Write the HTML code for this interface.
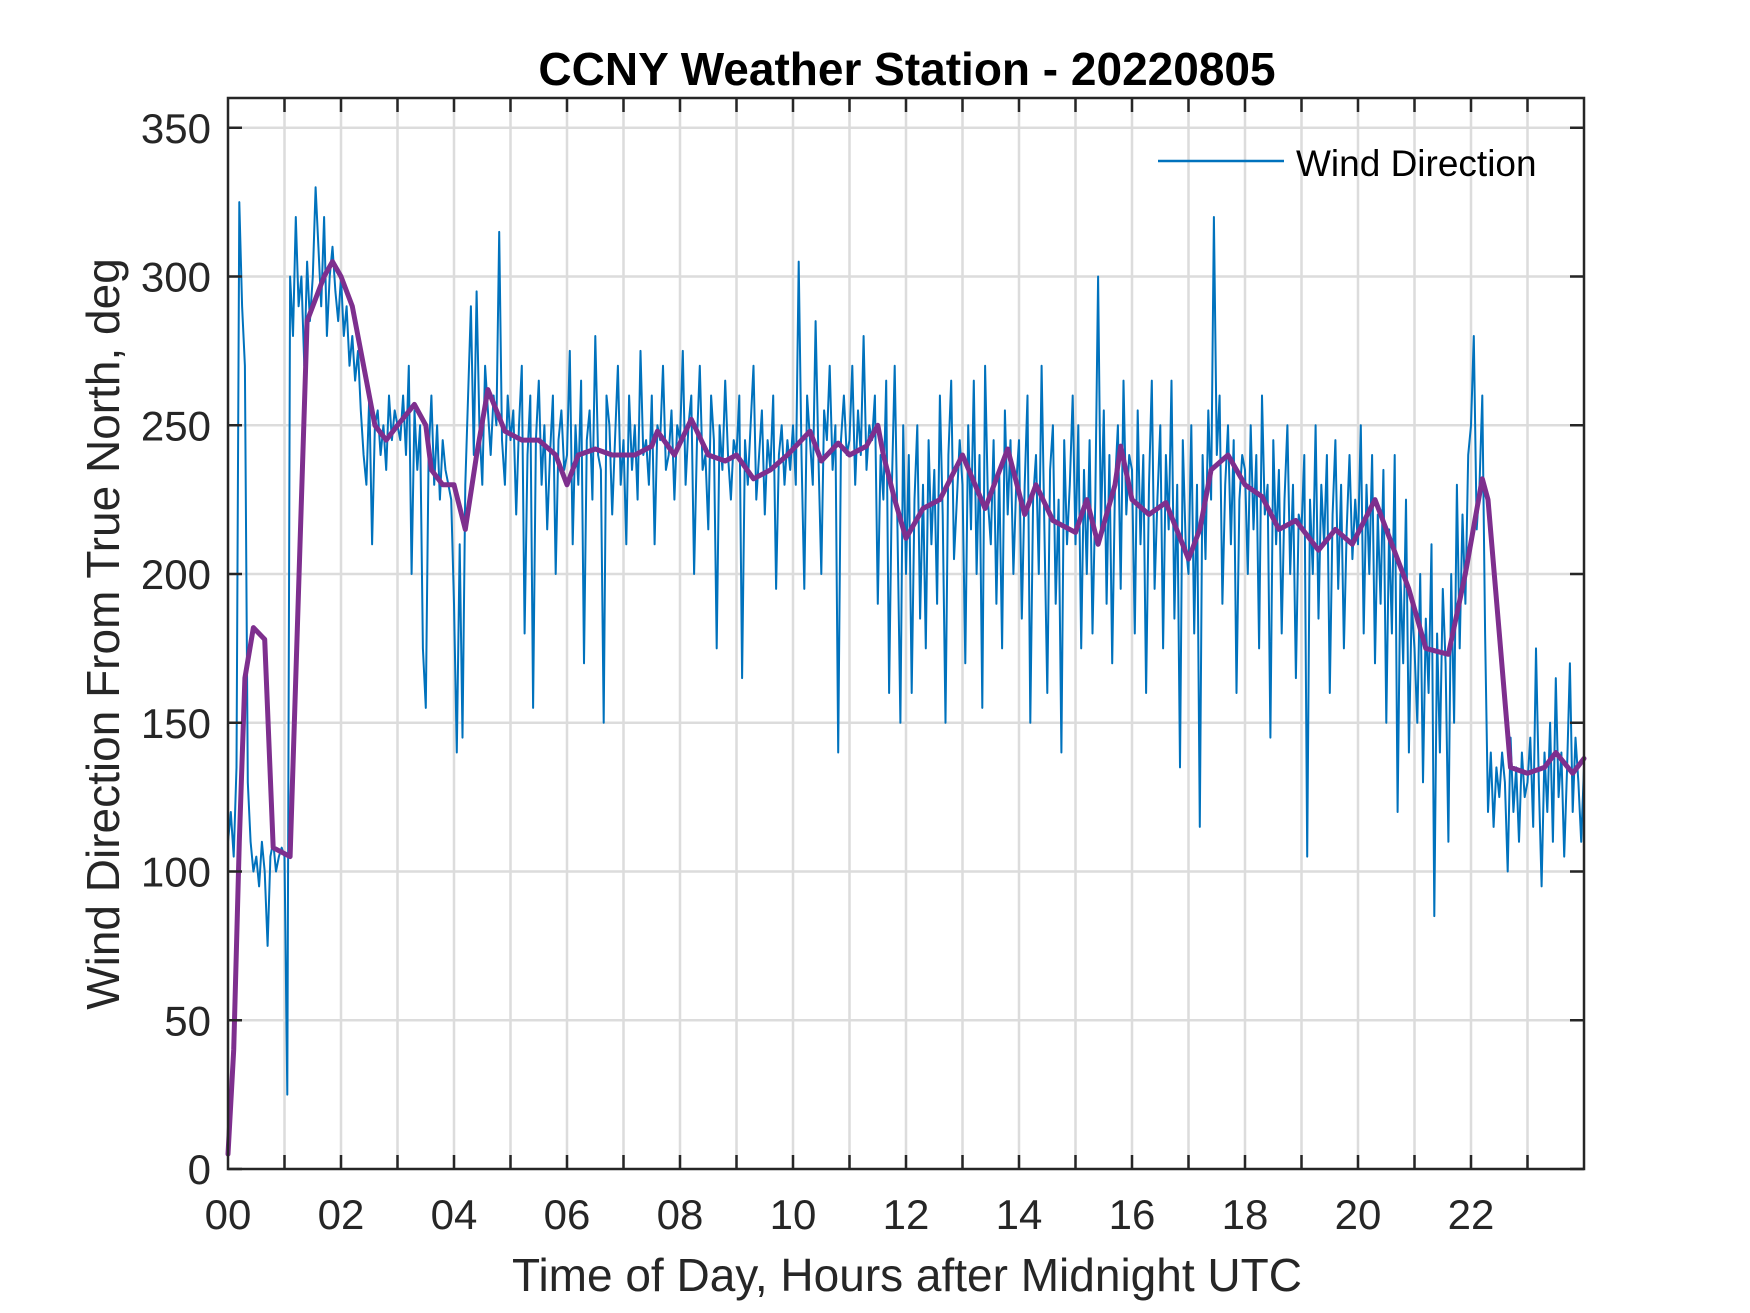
<!DOCTYPE html>
<html><head><meta charset="utf-8"><style>
html,body{margin:0;padding:0;background:#fff;}
svg{display:block;font-family:"Liberation Sans",Arial,sans-serif;}
</style></head><body>
<svg id="chart" width="1750" height="1313" viewBox="0 0 1750 1313" xmlns="http://www.w3.org/2000/svg">
<rect width="1750" height="1313" fill="#fff"/>
<g id="grid"></g>
<g id="series"></g>
<g id="axes"></g>
<text x="907" y="85" text-anchor="middle" font-size="46" font-weight="bold" fill="#000">CCNY Weather Station - 20220805</text>
<text x="907" y="1291" text-anchor="middle" font-size="46" fill="#262626">Time of Day, Hours after Midnight UTC</text>
<text transform="translate(119,634) rotate(-90)" text-anchor="middle" font-size="46" fill="#262626">Wind Direction From True North, deg</text>
<g>
<line x1="1158" y1="161" x2="1284" y2="161" stroke="#0072BD" stroke-width="2.5"/>
<text x="1296" y="176" font-size="37" fill="#000">Wind Direction</text>
</g>
</svg>
<script>
const xTicks = [0,2,4,6,8,10,12,14,16,18,20,22];
const xTickLabels = ["00","02","04","06","08","10","12","14","16","18","20","22"];
const yTicks = [0,50,100,150,200,250,300,350];
const rawStepHours = 0.05;
const rawValues = [
110,120,105,135,325,290,270,130,110,100,105,95,110,100,75,105,110,100,105,108,
105,25,300,280,320,290,300,270,305,285,300,330,310,290,320,280,300,310,295,285,
300,280,290,270,280,265,275,255,240,230,260,210,250,255,240,250,235,260,245,255,
250,245,260,240,270,200,255,235,250,175,155,240,260,230,250,225,245,235,230,225,
190,140,210,145,230,260,290,240,295,250,230,270,255,240,260,250,315,245,230,260,
245,255,220,250,270,180,240,260,155,245,265,230,250,215,240,260,200,245,255,235,
240,275,210,250,230,265,170,245,255,225,280,240,235,150,260,250,220,245,270,230,
245,210,260,235,250,225,275,240,245,230,260,210,250,245,270,235,240,255,225,250,
245,275,230,250,260,200,245,270,235,240,215,260,245,175,250,235,265,240,225,245,
240,260,165,245,230,250,270,225,240,255,220,245,235,260,195,240,250,230,245,235,
250,230,305,240,195,260,245,230,285,240,200,255,245,270,235,250,140,245,260,240,
245,270,230,255,240,280,235,250,245,260,190,240,225,265,160,230,270,215,150,250,
200,240,160,225,250,185,230,175,245,210,235,190,260,220,150,240,265,205,225,245,
230,170,250,215,265,200,240,155,270,225,210,245,190,235,175,255,220,245,200,230,
245,185,230,260,150,225,240,200,270,215,160,235,250,190,225,140,245,210,230,260,
210,250,175,235,200,245,180,225,300,215,255,190,240,170,230,250,195,265,220,240,
235,180,255,210,240,160,230,265,195,225,250,175,240,215,265,185,230,135,245,210,
200,250,180,230,115,240,205,255,225,320,240,260,190,230,250,210,245,160,225,240,
235,200,250,215,240,175,260,220,230,145,245,210,235,180,225,250,200,230,165,220,
215,240,105,225,200,250,185,230,210,240,160,220,245,195,230,175,215,240,205,225,
210,250,180,230,200,240,170,220,190,235,150,215,180,240,120,200,170,225,140,190,
175,150,200,130,185,160,210,85,180,140,195,170,110,200,150,230,175,220,190,240,
250,280,215,230,260,180,120,140,115,135,125,140,130,100,145,120,135,110,140,125,
130,145,115,175,130,95,140,120,150,110,165,125,140,105,135,170,120,145,130,110,
135];
const smoothTimes = [0,0.1,0.2,0.3,0.45,0.65,0.8,1.1,1.4,1.7,1.85,2.0,2.2,2.4,2.6,2.8,3.0,3.3,3.5,3.6,3.8,4.0,4.2,4.4,4.6,4.9,5.2,5.5,5.8,6.0,6.2,6.5,6.8,7.2,7.5,7.6,7.9,8.2,8.5,8.8,9.0,9.3,9.6,9.9,10.3,10.5,10.8,11.0,11.3,11.5,11.6,11.8,12.0,12.3,12.6,13.0,13.4,13.8,14.1,14.3,14.6,15.0,15.2,15.4,15.7,15.8,16.0,16.3,16.6,17.0,17.2,17.4,17.7,18.0,18.3,18.6,18.9,19.3,19.6,19.9,20.3,20.6,20.9,21.2,21.6,21.9,22.2,22.3,22.5,22.7,23.0,23.3,23.5,23.8,24.0];
const smoothValues = [5,40,110,165,182,178,108,105,285,300,305,300,290,270,250,245,250,257,250,235,230,230,215,240,262,248,245,245,240,230,240,242,240,240,243,248,240,252,240,238,240,232,235,240,248,238,244,240,243,250,240,225,212,222,225,240,222,242,220,230,218,214,225,210,230,243,225,220,224,205,215,235,240,230,226,215,218,208,215,210,225,210,195,175,173,200,232,225,180,135,133,135,140,133,138];

const X0=228,X1=1584,Y0=1169,Y1=98;
const xs=h=>X0+(h/24)*(X1-X0);
const ys=v=>Y0-(v/360)*(Y0-Y1);
const NS="http://www.w3.org/2000/svg";
function mk(tag,attrs,parent){const e=document.createElementNS(NS,tag);for(const k in attrs)e.setAttribute(k,attrs[k]);parent.appendChild(e);return e;}
const grid=document.getElementById('grid'),series=document.getElementById('series'),axes=document.getElementById('axes');
for(let h=1;h<24;h++){const l=mk('line',{x1:xs(h),x2:xs(h),y1:Y1,y2:Y0,stroke:'#dcdcdc','stroke-width':2.5},grid);

}
yTicks.forEach(v=>{if(v===0)return;const l=mk('line',{x1:X0,x2:X1,y1:ys(v),y2:ys(v),stroke:'#dcdcdc','stroke-width':2.5},grid);

});
let d='';rawValues.forEach((v,i)=>{d+=(i?'L':'M')+xs(i*rawStepHours).toFixed(1)+' '+ys(v).toFixed(1);});
const raw=mk('path',{d:d,fill:'none',stroke:'#0072BD','stroke-width':2,'stroke-linejoin':'round'},series);


let d2='';smoothValues.forEach((v,i)=>{d2+=(i?'L':'M')+xs(smoothTimes[i]).toFixed(1)+' '+ys(v).toFixed(1);});
const sm=mk('path',{d:d2,fill:'none',stroke:'#7E2F8E','stroke-width':5,'stroke-linejoin':'round','stroke-linecap':'round'},series);


const box=mk('rect',{x:X0,y:Y1,width:X1-X0,height:Y0-Y1,fill:'none',stroke:'#262626','stroke-width':2.5},axes);


for(let h=1;h<24;h++){
const t1=mk('line',{x1:xs(h),x2:xs(h),y1:Y0,y2:Y0-14,stroke:'#262626','stroke-width':2.5},axes);


const t2=mk('line',{x1:xs(h),x2:xs(h),y1:Y1,y2:Y1+14,stroke:'#262626','stroke-width':2.5},axes);

}
xTicks.forEach((h,i)=>{const t=mk('text',{x:xs(h),y:1229,'text-anchor':'middle','font-size':42,fill:'#262626'},axes);t.textContent=xTickLabels[i];

});
yTicks.forEach(v=>{
const a=mk('line',{x1:X0,x2:X0+14,y1:ys(v),y2:ys(v),stroke:'#262626','stroke-width':2.5},axes);


const b=mk('line',{x1:X1,x2:X1-14,y1:ys(v),y2:ys(v),stroke:'#262626','stroke-width':2.5},axes);


const t=mk('text',{x:211,y:ys(v)+15,'text-anchor':'end','font-size':42,fill:'#262626'},axes);t.textContent=String(v);

});
</script>
</body></html>
